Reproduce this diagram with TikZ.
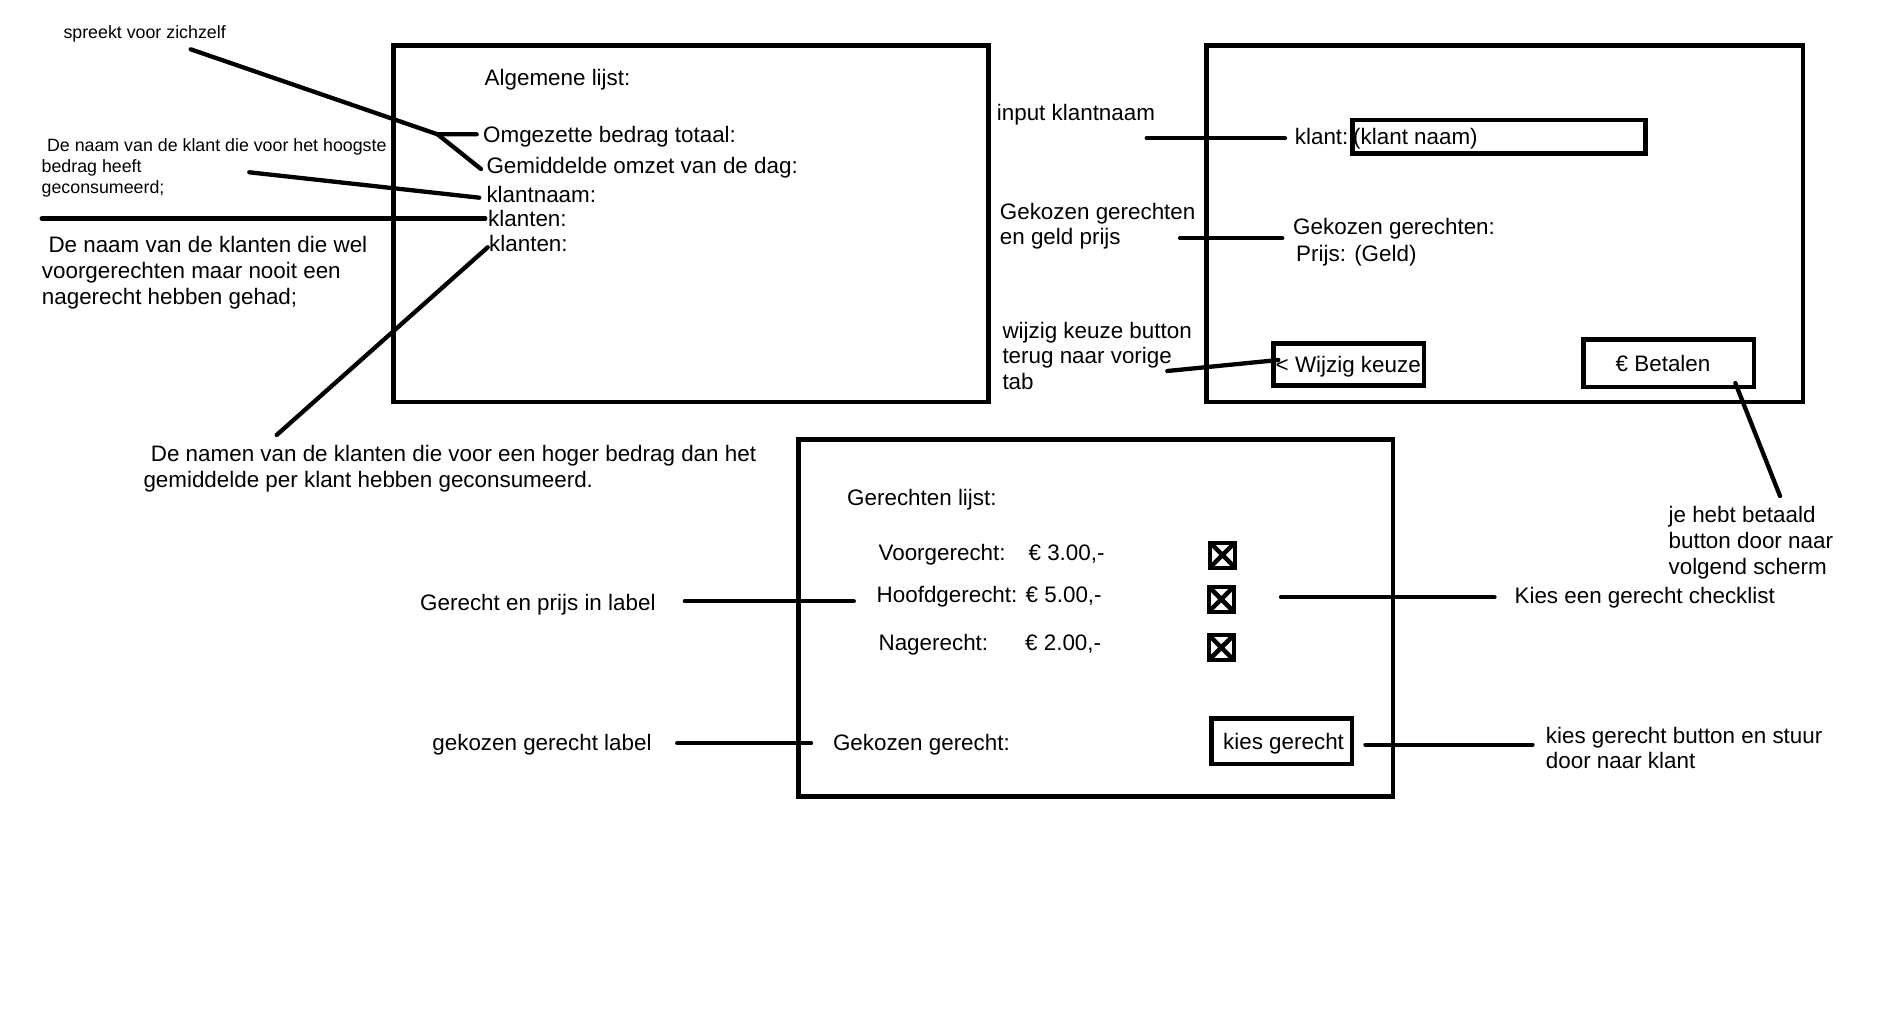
\documentclass[tikz,border=0pt]{standalone}
\usepackage{fontspec}
\setmainfont{Liberation Sans}
\newcommand\myBig{\fontsize{22.4}{26}\selectfont}
\newcommand\mySmall{\fontsize{17.8}{20.8}\selectfont}
\begin{document}
\begin{tikzpicture}[x=1pt,y=-1pt,
  frame/.style={draw, line width=4.5pt, inner sep=0, outer sep=0},
  conn/.style={line width=4.3pt, line cap=round},
  lbl/.style={font=\myBig, inner sep=0, anchor=base west},
  slbl/.style={font=\mySmall, inner sep=0, anchor=base west},
  mlbl/.style={inner sep=0, anchor=north west, align=left},
  chk/.style={draw, line width=4pt, minimum width=25pt, minimum height=25pt, inner sep=0,
    path picture={\draw[line width=4.5pt] (path picture bounding box.north west) -- (path picture bounding box.south east)
      (path picture bounding box.north east) -- (path picture bounding box.south west);}}
]
\fill[white] (0,0) rectangle (1887,1027);
\useasboundingbox (0,0) rectangle (1887,1027);

% ---------- frames ----------
\node[frame, minimum width=595pt, minimum height=356.3pt] (algemeen) at (690.8,223.85) {};
\node[frame, minimum width=596.2pt, minimum height=356.3pt] (betaal) at (1504.8,223.85) {};
\node[frame, minimum width=594.3pt, minimum height=357.2pt] (gerechten) at (1095.85,618.1) {};

% ---------- Algemene lijst ----------
\node[lbl] (alg) at (484.5,86) {Algemene lijst:};
\node[lbl] (omg) at (483,142.7) {Omgezette bedrag totaal:};
\node[lbl] (gem) at (486.3,173.3) {Gemiddelde omzet van de dag:};
\node[lbl] (kn) at (486.3,202.3) {klantnaam:};
\node[lbl] (kl1) at (488,226.7) {klanten:};
\node[lbl] (kl2) at (489,251.7) {klanten:};

\node[slbl] (spreekt) at (63.3,38.3) {spreekt voor zichzelf};
\node[mlbl, font={\fontsize{17.8}{20.8}\selectfont}] (hoog) at (41.5,137.1)
  {\strut\hspace*{5.4pt}De naam van de klant die voor het hoogste\\bedrag heeft\\geconsumeerd;};
\node[mlbl, font={\fontsize{22.4}{26}\selectfont}] (wel) at (41.7,234.1)
  {\strut\hspace*{6.6pt}De naam van de klanten die wel\\voorgerechten maar nooit een\\nagerecht hebben gehad;};
\node[mlbl, font={\fontsize{22.4}{26}\selectfont}] (namen) at (143.3,443.5)
  {\strut\hspace*{7.4pt}De namen van de klanten die voor een hoger bedrag dan het\\gemiddelde per klant hebben geconsumeerd.};

\coordinate (a0) at (190.7,49.3);
\coordinate (aj) at (437.5,134.3);
\coordinate (a1) at (476.7,134.3);
\coordinate (a2) at (481,169);
\coordinate (b0) at (249.3,172.3);
\coordinate (b1) at (479.3,197.7);
\coordinate (c0) at (41.7,218.5);
\coordinate (c1) at (485.3,218.5);
\coordinate (d0) at (276.7,435);
\coordinate (d1) at (487.7,247.3);
\draw[conn] (a0) -- (aj) -- (a1);
\draw[conn] (aj) -- (a2);
\draw[conn] (b0) -- (b1);
\draw[conn] (c0) -- (c1);
\draw[conn] (d0) -- (d1);

% ---------- Betaal scherm ----------
\node[lbl] (klant) at (1294.7,144.8) {klant:};
\node[frame, minimum width=293pt, minimum height=33.3pt] (invoer) at (1498.8,136.65) {};
\node[lbl] (klantnaam) at (1353,144.8) {(klant naam)};
\node[mlbl, font={\fontsize{22.4}{27.3}\selectfont}] (gekprijs) at (1293,214.9)
  {\strut Gekozen gerechten:\\\hspace*{3pt}Prijs: (Geld)};
\node[frame, minimum width=150.7pt, minimum height=42.4pt] (wijzigbtn) at (1348.65,364.5) {};
\node[lbl] (wijzigtxt) at (1275.5,372.2) {< Wijzig keuze};
\node[frame, minimum width=170.7pt, minimum height=47.2pt] (betalenbtn) at (1668.85,363.2) {};
\node[lbl] (betalentxt) at (1615.5,371.2) {€ Betalen};

\node[lbl] (inputlbl) at (996.7,120.7) {input klantnaam};
\node[mlbl, font={\fontsize{22.4}{25}\selectfont}] (geldlbl) at (999.7,201.5)
  {\strut Gekozen gerechten\\en geld prijs};
\node[mlbl, font={\fontsize{22.4}{25.5}\selectfont}] (wijziglbl) at (1002.3,320.2)
  {\strut wijzig keuze button\\terug naar vorige\\tab};
\node[mlbl, font={\fontsize{22.4}{25.8}\selectfont}] (betaaldlbl) at (1668.4,504.4)
  {\strut je hebt betaald\\button door naar\\volgend scherm};

\coordinate (e0) at (1146.7,138.3);
\coordinate (e1) at (1285,138.3);
\coordinate (f0) at (1180,238.3);
\coordinate (f1) at (1282.3,238.3);
\coordinate (g0) at (1167.3,371);
\coordinate (g1) at (1278.3,360);
\coordinate (h0) at (1735.3,383);
\coordinate (h1) at (1780,496);
\draw[conn] (e0) -- (e1);
\draw[conn] (f0) -- (f1);
\draw[conn] (g0) -- (g1);
\draw[conn] (h0) -- (h1);

% ---------- Gerechten lijst ----------
\node[lbl] (gerlijst) at (847,505) {Gerechten lijst:};
\node[lbl] (voor) at (878.4,560) {Voorgerecht:\hspace{23pt}€ 3.00,-};
\node[lbl] (hoofd) at (876.5,602.7) {Hoofdgerecht: € 5.00,-};
\node[lbl] (na) at (878.4,650) {Nagerecht:\hspace{37pt}€ 2.00,-};
\node[chk] (chk1) at (1222.5,555) {};
\node[chk] (chk2) at (1221.3,599.2) {};
\node[chk] (chk3) at (1221.3,647.5) {};
\node[lbl] (gekozen) at (832.8,750.7) {Gekozen gerecht:};
\node[frame, minimum width=140.4pt, minimum height=45.7pt] (kiesbtn) at (1281.9,741.15) {};
\node[lbl] (kiestxt) at (1223,749.3) {kies gerecht};

\node[lbl] (prijslbl) at (420,610) {Gerecht en prijs in label};
\node[lbl] (checklbl) at (1514.4,603.3) {Kies een gerecht checklist};
\node[lbl] (gekozenlbl) at (432.2,750.7) {gekozen gerecht label};
\node[mlbl, font={\fontsize{22.4}{25}\selectfont}] (stuurlbl) at (1545.7,725.8)
  {\strut kies gerecht button en stuur\\door naar klant};

\coordinate (i0) at (684.8,601.3);
\coordinate (i1) at (853.8,601.3);
\coordinate (j0) at (1281,597.3);
\coordinate (j1) at (1494.5,597.3);
\coordinate (k0) at (677.2,743.3);
\coordinate (k1) at (811,743.3);
\coordinate (l0) at (1365.4,744.7);
\coordinate (l1) at (1532.5,744.7);
\draw[conn] (i0) -- (i1);
\draw[conn] (j0) -- (j1);
\draw[conn] (k0) -- (k1);
\draw[conn] (l0) -- (l1);
\end{tikzpicture}
\end{document}
